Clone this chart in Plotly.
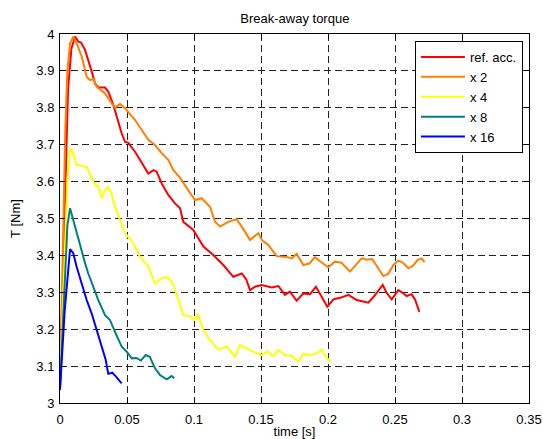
import plotly.graph_objects as go

t_ref = [0, 0.002, 0.004, 0.006, 0.0085, 0.0112, 0.0137, 0.0157, 0.0187, 0.0211, 0.0237, 0.0261, 0.0286, 0.0336, 0.036, 0.0398, 0.0423, 0.046, 0.0485, 0.051, 0.056, 0.061, 0.0659, 0.0697, 0.0721, 0.0759, 0.0808, 0.0858, 0.0896, 0.092, 0.0995, 0.107, 0.1144, 0.1219, 0.1293, 0.1356, 0.139, 0.1418, 0.1455, 0.1505, 0.1542, 0.158, 0.163, 0.1679, 0.1716, 0.1766, 0.1816, 0.1866, 0.191, 0.194, 0.1995, 0.204, 0.209, 0.2152, 0.2214, 0.2301, 0.2345, 0.2408, 0.2435, 0.2475, 0.2525, 0.256, 0.2587, 0.2624, 0.265, 0.2682]
T_ref = [3.05, 3.3, 3.6, 3.85, 3.96, 3.993, 3.979, 3.977, 3.957, 3.93, 3.898, 3.866, 3.855, 3.855, 3.844, 3.808, 3.776, 3.731, 3.708, 3.705, 3.681, 3.65, 3.622, 3.631, 3.627, 3.595, 3.564, 3.541, 3.528, 3.491, 3.469, 3.424, 3.401, 3.374, 3.342, 3.351, 3.335, 3.306, 3.315, 3.32, 3.317, 3.313, 3.317, 3.293, 3.302, 3.277, 3.297, 3.295, 3.315, 3.295, 3.261, 3.281, 3.285, 3.293, 3.279, 3.272, 3.29, 3.32, 3.3, 3.281, 3.306, 3.298, 3.29, 3.295, 3.28, 3.247]

t_x2 = [0, 0.002, 0.004, 0.0055, 0.0075, 0.0099, 0.0124, 0.0162, 0.0199, 0.0224, 0.025, 0.0274, 0.0336, 0.0386, 0.041, 0.0448, 0.0485, 0.056, 0.061, 0.0659, 0.0709, 0.0759, 0.0808, 0.0846, 0.0896, 0.0945, 0.1007, 0.1057, 0.1119, 0.1157, 0.1194, 0.1256, 0.1318, 0.1356, 0.1418, 0.148, 0.151, 0.1555, 0.1617, 0.1692, 0.173, 0.1766, 0.1816, 0.186, 0.1903, 0.194, 0.2002, 0.2052, 0.21, 0.2164, 0.22, 0.2251, 0.229, 0.233, 0.237, 0.2413, 0.245, 0.2488, 0.2525, 0.256, 0.26, 0.2635, 0.267, 0.27, 0.272]
T_x2 = [3.05, 3.4, 3.75, 3.9, 3.975, 3.993, 3.975, 3.939, 3.884, 3.875, 3.878, 3.857, 3.839, 3.812, 3.801, 3.81, 3.799, 3.767, 3.74, 3.713, 3.699, 3.677, 3.659, 3.631, 3.61, 3.585, 3.55, 3.555, 3.532, 3.491, 3.478, 3.491, 3.498, 3.478, 3.442, 3.46, 3.44, 3.428, 3.398, 3.396, 3.392, 3.404, 3.374, 3.378, 3.395, 3.384, 3.368, 3.383, 3.38, 3.356, 3.37, 3.392, 3.388, 3.39, 3.368, 3.344, 3.35, 3.374, 3.386, 3.38, 3.365, 3.372, 3.388, 3.392, 3.382]

t_x4 = [0, 0.003, 0.0055, 0.0075, 0.0099, 0.0124, 0.0162, 0.02, 0.0236, 0.0261, 0.0285, 0.0311, 0.0336, 0.036, 0.0385, 0.041, 0.0448, 0.0473, 0.0498, 0.0547, 0.0597, 0.0659, 0.0709, 0.0759, 0.0808, 0.0846, 0.0883, 0.092, 0.097, 0.1002, 0.1032, 0.107, 0.1119, 0.1182, 0.1244, 0.1306, 0.1343, 0.138, 0.1443, 0.1505, 0.155, 0.1592, 0.163, 0.168, 0.173, 0.1778, 0.1816, 0.187, 0.192, 0.1953, 0.1985, 0.202]
T_x4 = [3.05, 3.35, 3.6, 3.69, 3.677, 3.645, 3.642, 3.64, 3.609, 3.591, 3.588, 3.555, 3.577, 3.586, 3.568, 3.532, 3.496, 3.469, 3.455, 3.433, 3.396, 3.369, 3.324, 3.338, 3.341, 3.32, 3.279, 3.238, 3.235, 3.225, 3.241, 3.198, 3.171, 3.144, 3.153, 3.125, 3.157, 3.15, 3.139, 3.13, 3.14, 3.127, 3.144, 3.13, 3.128, 3.112, 3.133, 3.13, 3.135, 3.145, 3.124, 3.112]

t_x8 = [0, 0.003, 0.0055, 0.0075, 0.0099, 0.0124, 0.0149, 0.0187, 0.0211, 0.0249, 0.0286, 0.0336, 0.0373, 0.041, 0.046, 0.0498, 0.0535, 0.057, 0.0604, 0.0639, 0.067, 0.0709, 0.0746, 0.0796, 0.0833, 0.0853]
T_x8 = [3.04, 3.3, 3.48, 3.528, 3.496, 3.46, 3.424, 3.379, 3.351, 3.315, 3.279, 3.238, 3.225, 3.193, 3.153, 3.139, 3.121, 3.122, 3.115, 3.13, 3.125, 3.094, 3.076, 3.064, 3.073, 3.067]

t_x16 = [0, 0.0035, 0.0075, 0.0099, 0.0124, 0.0162, 0.0199, 0.0236, 0.0274, 0.0311, 0.0341, 0.036, 0.039, 0.0415, 0.0435, 0.046]
T_x16 = [3.035, 3.25, 3.417, 3.406, 3.369, 3.324, 3.279, 3.243, 3.198, 3.153, 3.117, 3.079, 3.082, 3.073, 3.065, 3.053]

names = ["ref. acc.", "x 2", "x 4", "x 8", "x 16"]
colors = ["#ff0000", "#ff8000", "#ffff00", "#008080", "#0000ff"]
series = [(t_ref, T_ref), (t_x2, T_x2), (t_x4, T_x4), (t_x8, T_x8), (t_x16, T_x16)]

x_ticks = [0, 0.05, 0.1, 0.15, 0.2, 0.25, 0.3, 0.35]
x_ticktext = ["0", "0.05", "0.1", "0.15", "0.2", "0.25", "0.3", "0.35"]
y_ticks = [3, 3.1, 3.2, 3.3, 3.4, 3.5, 3.6, 3.7, 3.8, 3.9, 4]
y_ticktext = ["3", "3.1", "3.2", "3.3", "3.4", "3.5", "3.6", "3.7", "3.8", "3.9", "4"]

FONT = "Liberation Sans, Arial, sans-serif"

fig = go.Figure()
for (tx, ty), n, c in zip(series, names, colors):
    fig.add_trace(go.Scatter(x=tx, y=ty, mode="lines", name=n,
                             line=dict(color=c, width=2)))

axis_common = dict(showline=True, linecolor="black", linewidth=1, mirror="ticks",
                   ticks="inside", ticklen=5, tickcolor="black",
                   showgrid=True, gridcolor="#222", gridwidth=1, griddash="7px,4px",
                   zeroline=False, automargin=False,
                   tickfont=dict(family=FONT, size=13, color="black"))

fig.update_xaxes(range=[0, 0.35], tickvals=x_ticks, ticktext=x_ticktext,
                 title=dict(text="time [s]", font=dict(family=FONT, size=13, color="black"), standoff=0),
                 ticklabelstandoff=4, **axis_common)
fig.update_yaxes(range=[3, 4], tickvals=y_ticks, ticktext=y_ticktext,
                 title=dict(text="T [Nm]", font=dict(family=FONT, size=13, color="black"), standoff=12),
                 ticklabelstandoff=2, **axis_common)

fig.update_layout(
    width=543, height=439,
    margin=dict(l=60, r=14, t=34, b=36),
    paper_bgcolor="white", plot_bgcolor="white",
    title=dict(text="Break-away torque", x=0.543, xanchor="center", y=0.958, yanchor="middle",
               font=dict(family=FONT, size=13, color="black")),
    legend=dict(x=0.987, y=0.981, xanchor="right", yanchor="top",
                bgcolor="white", bordercolor="black", borderwidth=1,
                font=dict(family=FONT, size=13, color="black"),
                itemwidth=44, tracegroupgap=0),
    showlegend=True,
)

fig.write_html("out.html")
